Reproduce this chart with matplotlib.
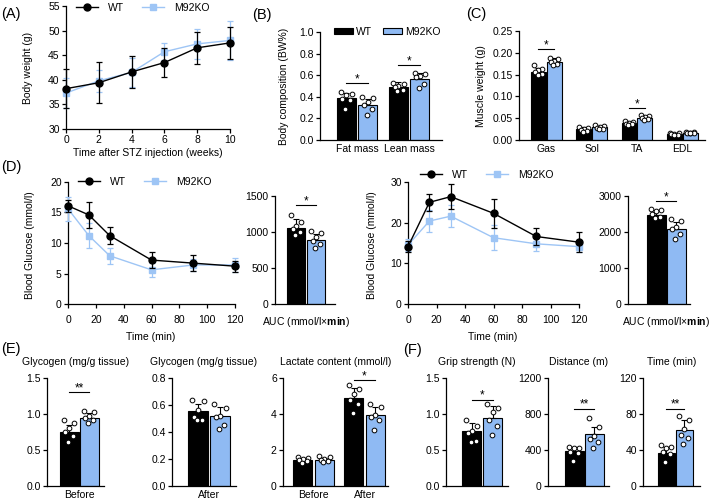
"""Multi-panel figure: body weight, body/muscle composition, ITT/IPGTT with AUC,
glycogen/lactate and exercise capacity (WT vs M92KO)."""

import matplotlib

matplotlib.use("Agg")
import matplotlib.pyplot as plt
import numpy as np
from matplotlib.patches import Patch
from matplotlib.lines import Line2D

plt.rcParams["font.family"] = ["Liberation Sans", "DejaVu Sans"]
plt.rcParams["font.size"] = 7.5
plt.rcParams["mathtext.fontset"] = "custom"
plt.rcParams["mathtext.rm"] = "Liberation Sans"
plt.rcParams["mathtext.bf"] = "Liberation Sans:bold"

W, H = 709, 499
BLUE = "#8fbaf3"
LINE_BLUE = "#9ec5f5"
JIT = [-0.28, 0.28, 0.0, -0.2, 0.22, -0.05]
AUC_LABEL = r"AUC (mmol/l$\times\mathbf{min}$)"

# (A) body weight after STZ
weeks = [0, 2, 4, 6, 8, 10]
bw_wt = [38.2, 39.4, 41.6, 43.5, 46.5, 47.5]
bw_wt_sd = [3.9, 4.2, 3.2, 2.9, 3.3, 3.2]
bw_ko = [37.3, 39.8, 41.5, 45.7, 47.3, 48.0]
bw_ko_sd = [3.0, 2.2, 3.0, 1.7, 3.0, 3.9]

# (B) body composition
comp_groups = ["Fat mass", "Lean mass"]
comp_wt = [0.385, 0.49]
comp_wt_sd = [0.05, 0.045]
comp_wt_pts = [[0.44, 0.43, 0.42, 0.38, 0.37, 0.29], [0.53, 0.52, 0.50, 0.49, 0.46, 0.45]]
comp_ko = [0.32, 0.565]
comp_ko_sd = [0.06, 0.055]
comp_ko_pts = [[0.40, 0.385, 0.35, 0.32, 0.29, 0.23], [0.62, 0.61, 0.59, 0.58, 0.52, 0.48]]

# (C) muscle weight
muscles = ["Gas", "Sol", "TA", "EDL"]
mus_wt = [0.157, 0.025, 0.038, 0.013]
mus_wt_sd = [0.008, 0.004, 0.003, 0.002]
mus_wt_pts = [[0.171, 0.163, 0.160, 0.156, 0.151, 0.148],
              [0.030, 0.028, 0.026, 0.022, 0.020, 0.018],
              [0.043, 0.041, 0.039, 0.037, 0.036, 0.034],
              [0.016, 0.015, 0.014, 0.013, 0.012, 0.011]]
mus_ko = [0.180, 0.030, 0.051, 0.016]
mus_ko_sd = [0.007, 0.003, 0.004, 0.002]
mus_ko_pts = [[0.189, 0.186, 0.182, 0.179, 0.175, 0.171],
              [0.034, 0.032, 0.030, 0.028, 0.026, 0.025],
              [0.058, 0.055, 0.052, 0.050, 0.049, 0.047],
              [0.019, 0.018, 0.017, 0.016, 0.015, 0.015]]

# (D) ITT and IPGTT
gt_time = [0, 15, 30, 60, 90, 120]
itt_wt = [16.1, 14.6, 11.2, 7.2, 6.7, 6.2]
itt_wt_sd = [1.0, 2.1, 1.4, 1.3, 1.3, 0.9]
itt_ko = [15.6, 11.2, 7.9, 5.6, 6.4, 6.4]
itt_ko_sd = [2.0, 2.1, 1.3, 1.1, 1.0, 1.2]
itt_auc_wt, itt_auc_wt_sd = [1055], [120]
itt_auc_wt_pts = [[1230, 1140, 1090, 1040, 1000, 960]]
itt_auc_ko, itt_auc_ko_sd = [890], [80]
itt_auc_ko_pts = [[1020, 985, 930, 880, 840, 780]]

gtt_wt = [14.1, 25.0, 26.4, 22.3, 16.6, 15.2]
gtt_wt_sd = [1.3, 2.1, 3.1, 3.5, 2.1, 2.5]
gtt_ko = [14.5, 20.4, 21.6, 16.3, 14.8, 14.1]
gtt_ko_sd = [1.5, 2.7, 2.7, 3.1, 1.7, 1.3]
gtt_auc_wt, gtt_auc_wt_sd = [2470], [140]
gtt_auc_wt_pts = [[2650, 2620, 2580, 2500, 2420, 2380]]
gtt_auc_ko, gtt_auc_ko_sd = [2080], [200]
gtt_auc_ko_pts = [[2370, 2300, 2140, 2080, 1940, 1800]]

# (E) glycogen and lactate
gly_b_wt, gly_b_wt_sd, gly_b_wt_pts = [0.75], [0.10], [[0.91, 0.87, 0.80, 0.75, 0.70, 0.61]]
gly_b_ko, gly_b_ko_sd, gly_b_ko_pts = [0.95], [0.06], [[1.04, 1.03, 0.97, 0.95, 0.91, 0.87]]
gly_a_wt, gly_a_wt_sd, gly_a_wt_pts = [0.555], [0.05], [[0.64, 0.63, 0.56, 0.51, 0.49, 0.49]]
gly_a_ko, gly_a_ko_sd, gly_a_ko_pts = [0.515], [0.07], [[0.61, 0.58, 0.52, 0.51, 0.45, 0.42]]
lac_groups = ["Before", "After"]
lac_wt = [1.46, 4.9]
lac_wt_sd = [0.10, 0.55]
lac_wt_pts = [[1.6, 1.55, 1.5, 1.45, 1.4, 1.3], [5.6, 5.4, 5.13, 4.76, 4.58, 4.06]]
lac_ko = [1.46, 3.93]
lac_ko_sd = [0.12, 0.45]
lac_ko_pts = [[1.65, 1.6, 1.5, 1.45, 1.4, 1.35], [4.58, 4.39, 3.93, 3.84, 3.65, 3.1]]

# (F) exercise capacity
grip_wt, grip_wt_sd, grip_wt_pts = [0.77], [0.10], [[0.92, 0.84, 0.77, 0.73, 0.63, 0.61]]
grip_ko, grip_ko_sd, grip_ko_pts = [0.94], [0.17], [[1.14, 1.09, 1.03, 0.91, 0.84, 0.71]]
dist_wt, dist_wt_sd, dist_wt_pts = [385], [45], [[433, 426, 426, 378, 370, 278]]
dist_ko, dist_ko_sd, dist_ko_pts = [575], [85], [[760, 656, 552, 526, 489, 426]]
run_wt, run_wt_sd, run_wt_pts = [37], [6], [[46, 43, 42, 38, 36, 27]]
run_ko, run_ko_sd, run_ko_pts = [62], [11], [[78, 73, 63, 57, 53, 47]]


fig = plt.figure(figsize=(W / 100, H / 100), dpi=100)


def axes_px(l, t, r, b):
    ax = fig.add_axes([l / W, 1 - b / H, (r - l) / W, (b - t) / H])
    for s in ("top", "right"):
        ax.spines[s].set_visible(False)
    for s in ("left", "bottom"):
        ax.spines[s].set_linewidth(0.9)
    ax.tick_params(direction="out", length=3, width=0.9, pad=1.5)
    return ax


def ftext(x, y, s, **kw):
    fig.text(x / W, 1 - y / H, s, ha=kw.pop("ha", "center"), va=kw.pop("va", "center"), **kw)


def lines(ax, x, wt, wt_sd, ko, ko_sd):
    for y, e, c, m, z in ((ko, ko_sd, LINE_BLUE, "s", 3), (wt, wt_sd, "black", "o", 4)):
        cont = ax.errorbar(x, y, yerr=e, fmt="-" + m, color=c, ms=5, lw=1.0,
                           elinewidth=0.9, capsize=2.5, capthick=0.9, zorder=z)
        data_line, caps, bars = cont.lines
        for a in (data_line, *caps, *bars):
            a.set_clip_on(False)


def bars(ax, wt, wt_sd, wt_pts, ko, ko_sd, ko_pts, width, off):
    centers = np.arange(len(wt))
    for xs, m, s, pts, color in ((centers - off, wt, wt_sd, wt_pts, "black"),
                                 (centers + off, ko, ko_sd, ko_pts, BLUE)):
        ax.bar(xs, m, width, color=color, edgecolor="black", linewidth=0.8, zorder=2)
        ax.errorbar(xs, m, yerr=[np.zeros(len(m)), s], fmt="none", ecolor="black",
                    elinewidth=0.8, capsize=2, capthick=0.8, zorder=3)
        for x, p in zip(xs, pts):
            ax.plot(x + np.array(JIT[:len(p)]) * width, p, "o", ms=3.4, mfc="white",
                    mec="black", mew=0.7, zorder=4, clip_on=False)


def sig(ax, x1, x2, y, text):
    ax.plot([x1, x2], [y, y], color="black", lw=0.8, clip_on=False)
    ax.annotate(text, ((x1 + x2) / 2, y), xytext=(0, 0.5), textcoords="offset points",
                ha="center", va="baseline", fontsize=8.5, annotation_clip=False)


def line_legend(ax, x, y):
    h = [Line2D([], [], color="black", marker="o", ms=5, lw=1.0),
         Line2D([], [], color=LINE_BLUE, marker="s", ms=5, lw=1.0)]
    ax.legend(h, ["WT", "M92KO"], ncol=2, loc="center left", frameon=False,
              bbox_to_anchor=(x / W, 1 - y / H), bbox_transform=fig.transFigure,
              borderpad=0, borderaxespad=0, handlelength=2.1, handletextpad=1.0,
              columnspacing=1.7, fontsize=7.5)


# ---- (A)
ax = axes_px(66, 6, 230, 129)
lines(ax, weeks, bw_wt, bw_wt_sd, bw_ko, bw_ko_sd)
ax.set_xlim(0, 10)
ax.set_ylim(30, 55)
ax.set_xticks(range(0, 11, 2))
ax.set_yticks(range(30, 56, 5))
line_legend(ax, 76, 8)
ftext(28, 68, "Body weight (g)", rotation=90)
ftext(148, 153, "Time after STZ injection (weeks)")

# ---- (B)
ax = axes_px(320, 32, 442, 140)
bars(ax, comp_wt, comp_wt_sd, comp_wt_pts, comp_ko, comp_ko_sd, comp_ko_pts, 0.365, 0.207)
ax.set_xlim(-0.71, 1.63)
ax.set_ylim(0, 1.0)
ax.set_yticks(np.arange(0, 1.01, 0.2))
ax.yaxis.set_major_formatter(matplotlib.ticker.FormatStrFormatter("%.1f"))
ax.set_xticks(range(len(comp_groups)), comp_groups)
ax.tick_params(axis="x", length=0, pad=3)
sig(ax, -0.207, 0.207, 0.53, "*")
sig(ax, 0.793, 1.207, 0.69, "*")
ax.legend([Patch(facecolor="black", edgecolor="black", lw=0.8),
           Patch(facecolor=BLUE, edgecolor="black", lw=0.8)], ["WT", "M92KO"],
          ncol=2, loc="center left", frameon=False, bbox_to_anchor=(334 / W, 1 - 32 / H),
          bbox_transform=fig.transFigure, borderpad=0, borderaxespad=0,
          handlelength=1.8, handleheight=0.55, handletextpad=0.35, columnspacing=1.0)
ftext(284, 86, "Body composition (BW%)", rotation=90)

# ---- (C)
ax = axes_px(519, 31, 705, 140)
bars(ax, mus_wt, mus_wt_sd, mus_wt_pts, mus_ko, mus_ko_sd, mus_ko_pts, 0.33, 0.175)
ax.set_xlim(-0.6, 3.5)
ax.set_ylim(0, 0.25)
ax.set_yticks(np.arange(0, 0.251, 0.05))
ax.yaxis.set_major_formatter(matplotlib.ticker.FormatStrFormatter("%.2f"))
ax.set_xticks(range(len(muscles)), muscles)
ax.tick_params(axis="x", length=0, pad=3)
sig(ax, -0.175, 0.175, 0.208, "*")
sig(ax, 1.825, 2.175, 0.074, "*")
ftext(481, 86, "Muscle weight (g)", rotation=90)

# ---- (D) ITT
ax = axes_px(68, 182, 235, 304)
lines(ax, gt_time, itt_wt, itt_wt_sd, itt_ko, itt_ko_sd)
ax.set_xlim(0, 120)
ax.set_ylim(0, 20)
ax.set_xticks(range(0, 121, 20))
ax.set_yticks(range(0, 21, 5))
ax.tick_params(axis="x", pad=5)
line_legend(ax, 78, 182)
ftext(30, 245, "Blood Glucose (mmol/l)", rotation=90)
ftext(151, 337, "Time (min)")

ax = axes_px(275, 196, 335, 304)
bars(ax, itt_auc_wt, itt_auc_wt_sd, itt_auc_wt_pts, itt_auc_ko, itt_auc_ko_sd,
     itt_auc_ko_pts, 0.35, 0.2)
ax.set_xlim(-0.62, 0.58)
ax.set_ylim(0, 1500)
ax.set_yticks([0, 500, 1000, 1500])
ax.set_xticks([0], [AUC_LABEL])
ax.tick_params(axis="x", length=0, pad=8)
sig(ax, -0.2, 0.2, 1370, "*")

# ---- (D) IPGTT
ax = axes_px(408, 182, 579, 304)
lines(ax, gt_time, gtt_wt, gtt_wt_sd, gtt_ko, gtt_ko_sd)
ax.set_xlim(0, 120)
ax.set_ylim(0, 30)
ax.set_xticks(range(0, 121, 20))
ax.set_yticks(range(0, 31, 10))
ax.tick_params(axis="x", pad=5)
line_legend(ax, 420, 175)
ftext(372, 245, "Blood Glucose (mmol/l)", rotation=90)
ftext(493, 337, "Time (min)")

ax = axes_px(628, 196, 690, 304)
bars(ax, gtt_auc_wt, gtt_auc_wt_sd, gtt_auc_wt_pts, gtt_auc_ko, gtt_auc_ko_sd,
     gtt_auc_ko_pts, 0.38, 0.2)
ax.set_xlim(-0.76, 0.48)
ax.set_ylim(0, 3000)
ax.set_yticks([0, 1000, 2000, 3000])
ax.set_xticks([0], [AUC_LABEL])
ax.tick_params(axis="x", length=0, pad=8)
sig(ax, -0.2, 0.2, 2870, "*")


# ---- (E) and (F) small bar panels
def small(box, xlim, ylim, yticks, fmt, title, wt, wt_sd, wt_pts, ko, ko_sd, ko_pts,
          width, off, xlabels, stars):
    l, t, r, b = box
    ax = axes_px(l, t, r, b)
    bars(ax, wt, wt_sd, wt_pts, ko, ko_sd, ko_pts, width, off)
    ax.set_xlim(*xlim)
    ax.set_ylim(*ylim)
    ax.set_yticks(yticks)
    ax.yaxis.set_major_formatter(matplotlib.ticker.FormatStrFormatter(fmt))
    ax.set_xticks(range(len(xlabels)), xlabels)
    ax.tick_params(axis="x", length=0, pad=3)
    for gi, y, s in stars:
        sig(ax, gi - off, gi + off, y, s)
    ftext((l + r) / 2, 362, title)
    return ax


small((47, 378, 104, 486), (-0.64, 0.5), (0, 1.5), [0, 0.5, 1.0, 1.5], "%.1f",
      "Glycogen (mg/g tissue)", gly_b_wt, gly_b_wt_sd, gly_b_wt_pts,
      gly_b_ko, gly_b_ko_sd, gly_b_ko_pts, 0.38, 0.2, ["Before"], [(0, 1.31, "**")])
small((172, 378, 236, 486), (-0.74, 0.54), (0, 0.8), [0, 0.2, 0.4, 0.6, 0.8], "%.1f",
      "Glycogen (mg/g tissue)", gly_a_wt, gly_a_wt_sd, gly_a_wt_pts,
      gly_a_ko, gly_a_ko_sd, gly_a_ko_pts, 0.4, 0.22, ["After"], [])
small((283, 378, 388, 486), (-0.6, 1.46), (0, 6), [0, 2, 4, 6], "%d",
      "Lactate content (mmol/l)", lac_wt, lac_wt_sd, lac_wt_pts,
      lac_ko, lac_ko_sd, lac_ko_pts, 0.37, 0.21, lac_groups, [(1, 5.9, "*")])
small((446, 378, 508, 486), (-0.72, 0.52), (0, 1.5), [0, 0.5, 1.0, 1.5], "%.1f",
      "Grip strength (N)", grip_wt, grip_wt_sd, grip_wt_pts,
      grip_ko, grip_ko_sd, grip_ko_pts, 0.38, 0.21, [""], [(0, 1.2, "*")])
small((548, 378, 609, 486), (-0.72, 0.5), (0, 1200), [0, 400, 800, 1200], "%d",
      "Distance (m)", dist_wt, dist_wt_sd, dist_wt_pts,
      dist_ko, dist_ko_sd, dist_ko_pts, 0.38, 0.2, [""], [(0, 860, "**")])
small((643, 378, 700, 486), (-0.64, 0.5), (0, 120), [0, 40, 80, 120], "%d",
      "Time (min)", run_wt, run_wt_sd, run_wt_pts,
      run_ko, run_ko_sd, run_ko_pts, 0.34, 0.18, [""], [(0, 86, "**")])

# panel letters
for x, y, s in ((1, 14, "(A)"), (252, 15, "(B)"), (466, 14, "(C)"),
                (1, 167, "(D)"), (1, 349, "(E)"), (403, 350, "(F)")):
    ftext(x, y, s, ha="left", fontsize=10.5)

fig.savefig("out.png", dpi=100)
plt.close(fig)
